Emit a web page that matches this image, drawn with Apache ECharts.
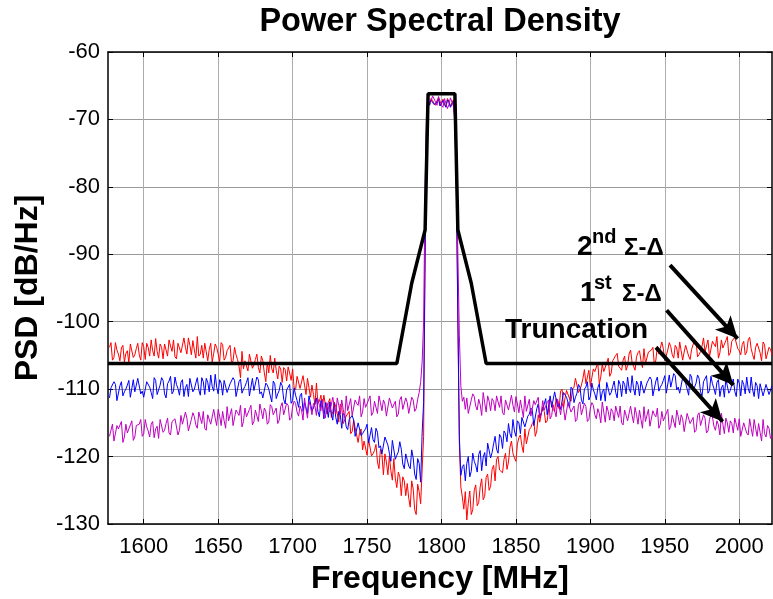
<!DOCTYPE html>
<html>
<head>
<meta charset="utf-8">
<title>Power Spectral Density</title>
<script src="https://cdn.jsdelivr.net/npm/echarts@6/dist/echarts.min.js"></script>
<style>
html, body { margin: 0; padding: 0; background: #ffffff; }
#chart { width: 773px; height: 599px; }
</style>
</head>
<body>
<div id="chart"></div>
<script>
// traces are sampled every 1 MHz: the "odd" arrays hold 1577, 1579 ... 2021,
// the "even" arrays hold 1578, 1580 ... 2022
const oddStart = 1577, evenStart = 1578, freqStep = 2

const xTicks = [1600, 1650, 1700, 1750, 1800, 1850, 1900, 1950, 2000]

// 2nd order sigma-delta (red)
const psdSecondOdd = [
    -103.8, -105.7, -103.1, -104.8, -103.9, -106.0, -104.3, -103.3, -105.3, -104.0,
    -104.9, -103.1, -105.6, -103.8, -102.7, -105.1, -104.4, -103.3, -105.5, -103.4,
    -102.7, -104.4, -105.2, -103.2, -104.6, -102.4, -104.8, -103.5, -102.8, -105.4,
    -105.1, -103.5, -103.2, -105.8, -103.2, -104.7, -103.8, -105.9, -103.4, -105.3,
    -104.2, -106.2, -103.8, -105.6, -108.3, -107.0, -105.6, -104.8, -106.9, -105.6,
    -106.8, -105.1, -107.6, -106.0, -105.0, -107.6, -107.2, -106.6, -109.0, -107.1,
    -106.7, -108.7, -109.8, -108.1, -109.9, -108.0, -110.8, -109.8, -109.4, -112.3,
    -112.1, -110.9, -110.9, -113.7, -111.4, -113.3, -112.6, -114.9, -112.7, -115.0,
    -114.2, -116.6, -114.6, -116.8, -116.4, -119.0, -117.8, -117.4, -119.9, -119.1,
    -120.8, -118.9, -122.7, -120.8, -119.9, -123.5, -123.3, -122.3, -125.8, -123.6,
    -124.0, -127.5, -124.8, -128.6, -125.2, -122.0, -90.0, -67.4, -66.9, -67.6,
    -67.2, -67.9, -67.0, -68.1, -67.3, -67.8, -69.8, -100.0, -124.5, -127.8,
    -129.4, -125.1, -127.9, -124.2, -126.8, -123.3, -125.9, -122.6, -124.4, -121.3,
    -120.4, -122.0, -122.4, -119.5, -120.8, -117.7, -120.2, -118.1, -116.8, -119.4,
    -118.1, -116.0, -115.1, -117.0, -113.8, -114.8, -113.3, -114.7, -111.6, -113.0,
    -111.4, -112.9, -110.0, -111.3, -110.1, -111.8, -109.7, -108.4, -110.1, -108.4,
    -109.2, -107.2, -109.4, -107.4, -106.1, -108.2, -107.4, -106.1, -108.1, -105.8,
    -105.0, -106.6, -107.2, -105.1, -106.5, -104.2, -106.6, -105.2, -104.3, -106.8,
    -106.2, -104.5, -104.2, -106.4, -103.6, -105.0, -104.0, -105.8, -103.1, -104.9,
    -103.5, -105.4, -102.9, -104.5, -103.6, -105.6, -104.0, -103.0, -104.9, -103.6,
    -104.5, -102.7, -105.2, -103.3, -102.2, -104.6, -103.9, -102.8, -105.0, -102.9,
    -102.3, -104.0, -104.9, -102.9, -104.5, -102.3, -104.9, -103.8, -103.2, -105.8,
    -103.4, -105.6, -104.1
]
const psdSecondEven = [
    -103.1, -105.3, -104.2, -105.8, -103.5, -104.7, -106.1, -103.5, -104.9, -103.2,
    -105.7, -103.7, -103.2, -105.1, -104.3, -102.5, -105.4, -103.8, -103.3, -105.1,
    -103.6, -102.7, -105.5, -103.2, -104.8, -103.8, -102.4, -104.9, -104.2, -102.2,
    -104.8, -105.4, -103.2, -104.1, -106.0, -103.3, -104.8, -103.1, -105.7, -104.3,
    -103.5, -105.8, -104.9, -106.6, -104.4, -105.8, -107.3, -104.9, -106.4, -104.8,
    -107.6, -105.8, -108.9, -107.6, -107.0, -105.4, -108.5, -107.0, -106.8, -108.8,
    -107.6, -107.0, -110.1, -108.2, -110.1, -109.4, -108.4, -111.2, -110.8, -109.1,
    -111.8, -112.7, -110.8, -112.0, -114.2, -111.9, -113.6, -112.2, -115.1, -114.0,
    -113.3, -116.3, -115.7, -117.9, -115.9, -117.7, -119.8, -117.5, -119.6, -118.2,
    -121.8, -119.7, -119.6, -122.7, -122.1, -120.3, -124.6, -123.0, -123.0, -125.8,
    -126.2, -123.6, -127.9, -124.1, -127.0, -117.0, -69.5, -67.8, -67.2, -67.9,
    -66.8, -67.5, -67.6, -66.9, -68.0, -67.1, -80.0, -118.0, -126.0, -125.2,
    -126.9, -128.6, -125.0, -127.3, -124.5, -126.4, -123.1, -125.0, -121.9, -123.6,
    -120.0, -122.1, -120.4, -121.9, -118.6, -119.5, -120.7, -117.2, -118.4, -115.9,
    -118.2, -115.7, -114.7, -116.2, -114.9, -112.6, -115.0, -112.9, -112.0, -113.3,
    -111.6, -110.3, -112.8, -110.2, -111.4, -110.0, -108.4, -110.5, -109.4, -107.1,
    -109.3, -109.6, -107.0, -107.6, -109.2, -106.3, -107.4, -105.4, -107.6, -105.9,
    -104.7, -106.9, -105.7, -107.2, -104.8, -106.0, -107.2, -104.6, -105.8, -104.0,
    -106.4, -104.3, -103.8, -105.7, -104.8, -103.0, -105.8, -104.2, -103.7, -105.4,
    -103.9, -103.0, -105.7, -103.5, -105.1, -104.1, -102.7, -105.2, -104.4, -102.4,
    -104.7, -105.2, -102.9, -103.7, -105.4, -102.7, -104.0, -102.2, -104.6, -103.1,
    -102.1, -104.3, -103.4, -104.9, -102.7, -104.0, -105.6, -103.2, -104.6, -103.0,
    -105.5, -103.8, -104.9
]

// 1st order sigma-delta (blue)
const psdFirstOdd = [
    -111.3, -109.7, -109.3, -111.7, -108.9, -110.4, -109.4, -111.2, -108.6, -110.5,
    -108.6, -110.3, -111.1, -109.1, -110.5, -108.3, -110.8, -109.4, -108.7, -111.3,
    -108.8, -110.7, -108.2, -109.9, -109.0, -111.1, -109.3, -108.4, -110.4, -109.1,
    -110.1, -108.3, -110.8, -109.0, -107.9, -110.3, -109.7, -108.6, -110.9, -108.8,
    -110.7, -109.1, -108.7, -111.2, -108.5, -110.0, -109.0, -111.0, -108.4, -110.3,
    -108.6, -110.4, -111.3, -109.4, -111.0, -108.8, -111.4, -110.2, -109.5, -112.2,
    -110.0, -112.1, -109.8, -111.7, -111.0, -113.3, -111.8, -111.0, -113.2, -112.1,
    -113.3, -111.7, -114.4, -112.8, -111.9, -114.6, -114.2, -113.3, -115.8, -113.9,
    -116.0, -114.7, -114.6, -117.2, -114.8, -116.6, -115.9, -118.0, -115.7, -117.9,
    -116.4, -118.4, -119.5, -117.7, -119.5, -117.6, -120.4, -119.3, -118.9, -121.8,
    -119.5, -121.8, -120.2, -123.4, -121.0, -116.5, -89.0, -67.6, -67.1, -67.8,
    -67.4, -68.0, -67.2, -68.2, -67.5, -68.0, -69.9, -99.0, -122.8, -121.2,
    -121.0, -123.0, -119.5, -121.3, -119.7, -122.1, -119.4, -118.0, -120.2, -118.1,
    -118.9, -116.7, -118.8, -116.6, -115.1, -117.2, -116.2, -114.7, -116.6, -114.1,
    -115.6, -113.7, -113.1, -115.2, -112.2, -113.5, -112.2, -113.8, -111.0, -112.6,
    -110.6, -112.2, -112.8, -110.7, -112.0, -109.7, -112.0, -110.6, -109.7, -112.2,
    -109.7, -111.6, -109.1, -110.7, -109.8, -111.7, -110.0, -109.0, -110.9, -109.6,
    -110.5, -108.7, -111.1, -109.3, -108.2, -110.5, -109.9, -108.8, -111.0, -108.9,
    -110.6, -109.0, -108.6, -111.0, -108.2, -109.7, -108.7, -110.6, -107.9, -109.8,
    -108.0, -109.7, -110.5, -108.5, -110.0, -107.8, -110.3, -109.1, -108.4, -111.0,
    -108.7, -110.6, -108.1, -109.9, -109.0, -111.1, -109.4, -108.5, -110.6, -109.3,
    -110.3, -108.5, -111.0, -109.3, -108.2, -110.6, -110.1, -109.0, -111.4, -109.3,
    -110.9, -109.4, -110.6
]
const psdFirstEven = [
    -109.8, -108.9, -111.7, -109.5, -111.0, -110.0, -108.7, -111.1, -110.4, -108.4,
    -110.7, -111.2, -108.9, -109.7, -111.4, -108.7, -110.1, -108.3, -110.7, -109.2,
    -108.1, -110.3, -109.3, -110.9, -108.6, -109.8, -111.1, -108.6, -110.0, -108.3,
    -110.9, -108.9, -108.4, -110.4, -109.6, -107.8, -110.7, -109.1, -108.7, -110.5,
    -109.2, -108.3, -111.1, -108.9, -110.6, -109.6, -108.3, -110.9, -110.2, -108.2,
    -110.7, -111.3, -109.1, -110.0, -111.9, -109.2, -110.7, -109.0, -111.5, -110.1,
    -109.3, -111.7, -110.9, -112.7, -110.6, -112.0, -113.6, -111.2, -112.8, -111.3,
    -114.1, -112.3, -112.0, -114.2, -113.6, -112.1, -115.2, -113.8, -113.6, -115.6,
    -114.5, -113.9, -117.0, -115.0, -116.9, -116.2, -115.2, -117.9, -117.5, -115.8,
    -118.7, -119.6, -117.1, -118.3, -120.7, -117.8, -119.8, -117.8, -121.1, -119.6,
    -121.4, -119.0, -122.6, -120.3, -123.8, -112.0, -69.8, -67.9, -67.3, -68.0,
    -67.0, -67.7, -67.8, -67.1, -68.2, -67.3, -80.0, -117.0, -121.5, -123.6,
    -120.0, -122.2, -120.7, -122.3, -119.1, -120.1, -121.4, -118.1, -119.4, -117.0,
    -119.5, -117.1, -116.2, -117.8, -116.6, -114.5, -117.0, -115.0, -114.2, -115.6,
    -114.0, -112.8, -115.4, -112.9, -114.2, -113.0, -111.4, -113.6, -112.7, -110.4,
    -112.6, -113.0, -110.5, -111.2, -112.8, -110.0, -111.2, -109.3, -111.6, -110.0,
    -108.9, -111.1, -110.1, -111.6, -109.2, -110.4, -111.8, -109.2, -110.5, -108.8,
    -111.3, -109.3, -108.8, -110.7, -109.9, -108.0, -110.9, -109.3, -108.8, -110.6,
    -109.1, -108.2, -111.0, -108.8, -110.3, -109.3, -108.0, -110.5, -109.7, -107.7,
    -110.1, -110.6, -108.3, -109.1, -110.9, -108.2, -109.7, -107.9, -110.4, -108.9,
    -108.0, -110.2, -109.2, -110.8, -108.6, -109.8, -111.2, -108.7, -110.2, -108.5,
    -111.1, -109.1, -108.7, -110.7, -109.9, -108.2, -111.1, -109.5, -109.2, -111.0,
    -109.3, -110.8, -109.5
]

// truncation (magenta)
const psdTruncOdd = [
    -117.0, -115.2, -117.7, -115.9, -114.8, -117.1, -116.5, -115.3, -117.6, -115.4,
    -115.2, -117.0, -114.5, -116.2, -115.2, -117.2, -115.5, -114.5, -116.4, -115.1,
    -116.5, -114.8, -114.4, -116.8, -113.9, -115.4, -114.3, -116.1, -113.5, -115.3,
    -113.4, -115.1, -115.8, -113.8, -115.2, -113.0, -115.4, -114.0, -113.3, -115.8,
    -114.7, -112.9, -115.4, -113.5, -112.4, -114.8, -114.1, -113.0, -115.3, -113.1,
    -114.8, -113.2, -112.8, -115.2, -112.3, -113.8, -112.8, -114.6, -112.0, -113.8,
    -112.4, -114.3, -111.8, -113.4, -112.5, -114.6, -112.9, -111.8, -113.8, -112.5,
    -111.5, -113.2, -114.0, -112.0, -113.4, -111.2, -113.7, -112.4, -111.6, -114.2,
    -113.2, -111.4, -113.9, -112.1, -111.0, -113.4, -112.7, -111.6, -113.9, -111.8,
    -113.6, -112.0, -111.6, -114.0, -111.3, -112.8, -111.8, -113.7, -111.1, -113.0,
    -112.0, -113.5, -111.6, -112.9, -110.5, -106.0, -80.0, -66.8, -67.3, -66.6,
    -67.9, -66.7, -68.2, -67.0, -67.8, -66.9, -70.5, -90.0, -109.5, -111.2,
    -111.3, -113.4, -110.7, -112.5, -111.5, -113.9, -112.0, -111.0, -113.2, -111.8,
    -111.0, -112.7, -113.5, -111.6, -113.1, -110.9, -113.4, -112.2, -111.6, -114.2,
    -113.3, -111.5, -114.0, -112.3, -111.2, -113.7, -113.1, -112.0, -114.4, -112.3,
    -114.1, -112.5, -112.1, -114.6, -111.9, -113.4, -112.5, -114.5, -111.9, -113.8,
    -112.6, -114.5, -112.0, -113.8, -112.9, -115.0, -113.4, -112.5, -114.6, -113.3,
    -112.5, -114.2, -115.0, -113.1, -114.7, -112.5, -115.0, -113.8, -113.1, -115.8,
    -114.8, -113.0, -115.6, -113.8, -112.8, -115.2, -114.7, -113.6, -116.0, -113.9,
    -115.7, -114.1, -113.8, -116.3, -113.6, -115.1, -114.2, -116.1, -113.5, -115.5,
    -114.3, -116.2, -113.8, -115.5, -114.7, -116.8, -115.2, -114.3, -116.4, -115.1,
    -114.3, -116.1, -117.0, -115.0, -116.5, -114.4, -117.0, -115.8, -115.1, -117.7,
    -116.6, -115.4, -117.3
]
const psdTruncEven = [
    -117.2, -117.7, -115.4, -116.1, -117.9, -115.2, -116.5, -114.7, -117.1, -115.6,
    -114.5, -116.6, -115.6, -117.1, -114.8, -115.9, -117.3, -114.7, -116.1, -114.3,
    -116.8, -114.7, -114.2, -116.1, -115.2, -113.4, -116.2, -114.5, -114.1, -115.8,
    -114.3, -113.3, -116.1, -113.8, -115.4, -114.3, -113.0, -115.4, -114.7, -112.6,
    -114.9, -115.4, -113.1, -113.9, -115.6, -112.8, -114.2, -112.4, -114.8, -113.3,
    -112.2, -114.4, -113.3, -114.9, -112.6, -113.7, -115.1, -112.6, -113.8, -112.1,
    -114.6, -112.6, -112.1, -114.0, -113.1, -111.3, -114.3, -112.6, -112.1, -113.9,
    -112.4, -111.5, -114.3, -112.1, -113.6, -112.6, -111.3, -113.7, -113.0, -111.0,
    -113.4, -113.9, -111.6, -112.4, -114.1, -111.4, -112.8, -111.0, -113.5, -112.0,
    -111.0, -113.2, -112.2, -113.8, -111.5, -112.7, -114.1, -111.6, -113.0, -111.3,
    -113.6, -111.2, -113.3, -111.5, -109.0, -100.0, -68.5, -67.6, -66.5, -67.4,
    -66.6, -67.9, -66.9, -68.4, -66.8, -68.0, -78.0, -102.0, -111.8, -113.0,
    -113.6, -111.6, -111.1, -113.1, -112.3, -110.5, -113.4, -111.8, -111.4, -113.2,
    -111.9, -111.0, -113.8, -111.7, -113.3, -112.4, -111.1, -113.5, -112.9, -111.0,
    -113.5, -114.0, -111.7, -112.5, -114.3, -111.7, -113.2, -111.6, -113.9, -112.5,
    -111.5, -113.8, -112.8, -114.4, -112.1, -113.3, -114.8, -112.3, -113.8, -112.1,
    -114.8, -112.8, -112.4, -114.4, -113.6, -111.9, -114.9, -113.3, -112.9, -114.7,
    -113.4, -112.5, -115.3, -113.2, -114.9, -113.9, -112.7, -115.2, -114.5, -112.6,
    -115.0, -115.5, -113.2, -114.1, -115.8, -113.3, -114.8, -113.0, -115.5, -114.1,
    -113.1, -115.3, -114.4, -116.1, -113.8, -114.9, -116.4, -113.9, -115.4, -113.8,
    -116.5, -114.5, -114.1, -116.1, -115.3, -113.6, -116.6, -115.0, -114.7, -116.5,
    -115.2, -114.4, -117.2, -115.1, -116.8, -115.8, -114.5, -117.0, -116.4, -114.5,
    -117.1, -115.8, -116.9
]

// spectral mask (black)
const maskFreq = [1576, 1770, 1780, 1789, 1791, 1809, 1811, 1820, 1830, 2022]
const maskPsd = [-106.2, -106.2, -94.3, -86.4, -66.2, -66.2, -86.4, -94.3, -106.2, -106.2]

// annotation arrows [from, to] in MHz / dB
const arrows = [
    [[1953.5, -91.6], [1998.9, -102.5]],
    [[1951.2, -98.3], [1996.0, -109.4]],
    [[1944.1, -103.8], [1988.8, -114.8]]
]

const FONT = '"Liberation Sans", Arial, sans-serif'

function tracePoints(oddValues, evenValues){
    const out = []
    for(let i = 0; i < oddValues.length; i++){
        out.push([oddStart + i * freqStep, oddValues[i]])
        if(i < evenValues.length){
            out.push([evenStart + i * freqStep, evenValues[i]])
        }
    }
    return out
}

function traceSeries(name, color, oddValues, evenValues){
    return {
        name: name,
        type: 'line',
        data: tracePoints(oddValues, evenValues),
        showSymbol: false,
        symbol: 'none',
        lineStyle: { color: color, width: 1 },
        itemStyle: { color: color },
        animation: false,
        silent: true
    }
}

function labelText(x, y, text, size){
    return {
        type: 'text', x: x, y: y, z: 100,
        style: { text: text, font: 'bold ' + size + 'px ' + FONT, fill: '#000', align: 'left', verticalAlign: 'middle' }
    }
}

const chart = echarts.init(document.getElementById('chart'))

const options = {
    backgroundColor: '#ffffff',
    animation: false,
    grid: { left: 108, right: 1, top: 52, bottom: 75, outerBoundsMode: 'none', containLabel: false },
    xAxis: [{
        type: 'value',
        min: 1576,
        max: 2022,
        position: 'bottom',
        name: 'Frequency [MHz]',
        nameLocation: 'middle',
        nameGap: 37,
        nameTextStyle: { fontFamily: FONT, fontSize: 32, fontWeight: 'bold', color: '#000' },
        axisLine: { show: true, onZero: false, lineStyle: { color: '#000', width: 1.5 } },
        axisTick: { show: true, inside: true, length: 5, customValues: xTicks, lineStyle: { color: '#000' } },
        axisLabel: {
            customValues: xTicks, fontFamily: FONT, fontSize: 22, color: '#000', margin: 12,
            formatter: function(value){ return String(value) }
        },
        splitLine: { show: true, lineStyle: { color: '#acacac', width: 1 } }
    }, {
        type: 'value',
        min: 1576,
        max: 2022,
        position: 'top',
        axisLine: { show: true, onZero: false, lineStyle: { color: '#000', width: 1.5 } },
        axisTick: { show: true, inside: true, length: 5, customValues: xTicks, lineStyle: { color: '#000' } },
        axisLabel: { show: false },
        splitLine: { show: false }
    }],
    yAxis: [{
        type: 'value',
        min: -130,
        max: -60,
        interval: 10,
        position: 'left',
        name: 'PSD [dB/Hz]',
        nameLocation: 'middle',
        nameGap: 64,
        nameTextStyle: { fontFamily: FONT, fontSize: 32, fontWeight: 'bold', color: '#000' },
        axisLine: { show: true, onZero: false, lineStyle: { color: '#000', width: 1.5 } },
        axisTick: { show: true, inside: true, length: 5, lineStyle: { color: '#000' } },
        axisLabel: { fontFamily: FONT, fontSize: 22, color: '#000', margin: 8 },
        splitLine: { show: true, lineStyle: { color: '#999999', width: 1 } }
    }, {
        type: 'value',
        min: -130,
        max: -60,
        interval: 10,
        position: 'right',
        axisLine: { show: true, onZero: false, lineStyle: { color: '#000', width: 1.5 } },
        axisTick: { show: true, inside: true, length: 5, lineStyle: { color: '#000' } },
        axisLabel: { show: false },
        splitLine: { show: false }
    }],
    series: [
        traceSeries('2nd Σ-Δ', '#ff0000', psdSecondOdd, psdSecondEven),
        traceSeries('1st Σ-Δ', '#0000ff', psdFirstOdd, psdFirstEven),
        traceSeries('Truncation', '#bf00bf', psdTruncOdd, psdTruncEven),
        {
            name: 'Mask',
            type: 'line',
            data: maskFreq.map((f, i) => [f, maskPsd[i]]),
            showSymbol: false,
            symbol: 'none',
            lineStyle: { color: '#000', width: 3.5 },
            itemStyle: { color: '#000' },
            animation: false,
            silent: true,
            markLine: {
                silent: true,
                animation: false,
                symbol: ['none', 'arrow'],
                symbolSize: [16, 22],
                label: { show: false },
                itemStyle: { color: '#000' },
                lineStyle: { color: '#000', width: 4, type: 'solid' },
                data: arrows.map(a => [{ coord: a[0] }, { coord: a[1] }])
            }
        }
    ],
    graphic: [
        {
            type: 'text', x: 440, y: 22, z: 100,
            style: { text: 'Power Spectral Density', font: 'bold 32.5px ' + FONT, fill: '#000', align: 'center', verticalAlign: 'middle' }
        },
        labelText(577, 247, '2', 28),
        labelText(592, 237, 'nd', 20),
        labelText(624, 248, 'Σ-Δ', 24),
        labelText(580, 293, '1', 28),
        labelText(594, 283, 'st', 20),
        labelText(622, 294, 'Σ-Δ', 24),
        labelText(505, 330, 'Truncation', 28)
    ]
}

chart.setOption(options)
</script>
</body>
</html>
